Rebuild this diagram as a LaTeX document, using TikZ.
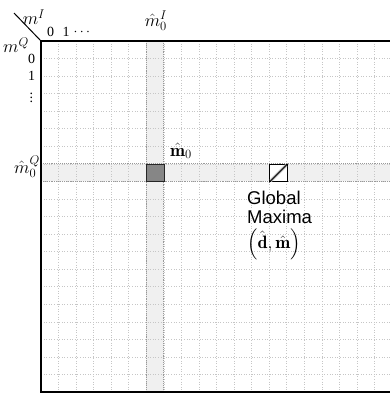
\RequirePackage{fix-cm}
\documentclass[tikz,border=0pt]{standalone}
\usepackage{fontspec}
\usepackage{amsmath}
\newfontfamily\labelsans{Liberation Sans}
\newfontfamily\labelserif{Liberation Serif}
\begin{document}
\begin{tikzpicture}[x=1pt,y=-1pt,
  gridline/.style={gray!45,dotted,line width=0.6pt},
  strip/.style={fill=gray!12},
  stripedge/.style={gray!80,densely dotted,line width=0.9pt},
  frame/.style={black,line width=1.5pt},
  numlbl/.style={inner sep=0pt,font=\labelserif\fontsize{14}{16}\selectfont},
  mathlbl/.style={inner sep=0pt,font=\fontsize{18}{20}\selectfont},
  sanslbl/.style={inner sep=0pt,anchor=west,font=\labelsans\fontsize{18.5}{20}\selectfont},
]
\def\s{17.55}
\useasboundingbox (0,0) rectangle (390,394);
% strips
\fill[strip] ({41+6*\s},41) rectangle ({41+7*\s},392);
\fill[strip] (41,{41+7*\s}) rectangle (390,{41+8*\s});
% grid
\foreach \k in {1,...,19} {
  \draw[gridline] ({41+\k*\s},41) -- ({41+\k*\s},392);
  \draw[gridline] (41,{41+\k*\s}) -- (390,{41+\k*\s});
}
% strip edges
\draw[stripedge] ({41+6*\s},41) -- ({41+6*\s},392);
\draw[stripedge] ({41+7*\s},41) -- ({41+7*\s},392);
\draw[stripedge] (41,{41+7*\s}) -- (390,{41+7*\s});
\draw[stripedge] (41,{41+8*\s}) -- (390,{41+8*\s});
% dark cell
\node[draw=black!85,line width=1pt,fill=gray!95,minimum size=\s pt,inner sep=0pt,anchor=north west] (dark) at ({41+6*\s},{41+7*\s}) {};
% global maxima cell
\node[draw=black,line width=1pt,fill=white,minimum size=\s pt,inner sep=0pt,anchor=north west] (gm) at ({41+13*\s},{41+7*\s}) {};
\draw[gray!55,line width=3pt,shorten <=2pt,shorten >=2pt] (gm.south west) -- (gm.north east);
\draw[black,line width=0.8pt] (gm.south west) -- (gm.north east);
% frame
\coordinate (tl) at (41,41);
\coordinate (tr) at (390,41);
\coordinate (bl) at (41,392);
\coordinate (br) at (390,392);
\coordinate (diag) at (14,13);
\draw[frame] (tr) -- (tl) -- (bl) -- (br);
\draw[black,line width=1pt] (diag) -- (tl);
% labels
\node[mathlbl] (mI) at (34,17) {$m^{I}$};
\node[mathlbl] (mQ) at (16,45) {$m^{Q}$};
\node[numlbl] (c0) at (50.5,32) {0};
\node[numlbl] (c1) at (66,32) {1};
\node[numlbl] (cd) at (83,32) {$\cdots$};
\node[numlbl] (r0) at (31.5,59) {0};
\node[numlbl] (r1) at (31.5,76) {1};
\node[numlbl] (rd) at (31.5,95) {$\vdots$};
\node[mathlbl] (mhI) at (156,21) {$\hat{m}_0^{I}$};
\node[mathlbl] (mhQ) at (27,167) {$\hat{m}_0^{Q}$};
\node[mathlbl] (mh0) at (181,151) {$\hat{\mathbf{m}}_0$};
\node[sanslbl] (glob) at (247,198) {Global};
\node[sanslbl] (maxi) at (247,217) {Maxima};
\node[inner sep=0pt,anchor=west,font=\fontsize{18}{20}\selectfont] (dm) at (247,244) {$\left(\hat{\mathbf{d}},\hat{\mathbf{m}}\right)$};
\end{tikzpicture}
\end{document}
